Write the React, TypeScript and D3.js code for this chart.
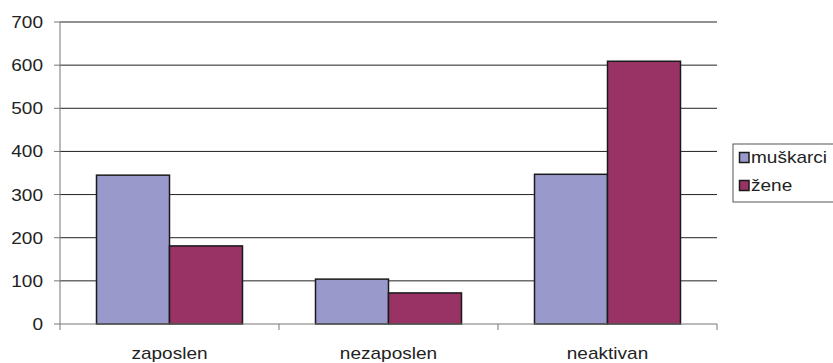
import React from "react";
import * as d3 from "d3";

const categories = ["zaposlen", "nezaposlen", "neaktivan"];
const seriesNames = ["muškarci", "žene"];
const muskarci = [345, 104, 347];
const zene = [181, 72, 609];
const yTicks = [0, 100, 200, 300, 400, 500, 600, 700];
const colors = ["#9999cc", "#993366"];

const W = 833;
const H = 363;
const left = 60;
const right = 717;
const top = 22;
const bottom = 324;
const font = "'Liberation Sans', Arial, sans-serif";
const SX = 1.12;

function T({ x, y, anchor, children }: { x: number; y: number; anchor?: string; children: React.ReactNode }) {
  return (
    <text transform={`translate(${x},${y}) scale(${SX},1)`} dy="0.35em" textAnchor={anchor || "start"}
      fontFamily={font} fontSize={17} fill="#222">{children}</text>
  );
}

export default function App() {
  const x = d3.scaleBand<string>().domain(categories).range([left, right]).paddingInner(0).paddingOuter(0);
  const y = d3.scaleLinear().domain([0, 700]).range([bottom, top]);
  const bw = x.bandwidth();
  const barW = bw / 3;
  const inner = d3.scaleBand<string>().domain(seriesNames).range([bw / 2 - barW, bw / 2 + barW]);
  const values = [muskarci, zene];

  return (
    <svg width={W} height={H} style={{ position: "absolute", left: 0, top: 0 }}>
      <rect x={0} y={0} width={W} height={H} fill="#fff" />
      {yTicks.filter((t) => t > 0).map((t) => (
        <line key={t} x1={left} x2={right} y1={y(t)} y2={y(t)} stroke="#222" strokeWidth={1} />
      ))}
      {categories.map((c, i) =>
        seriesNames.map((s, j) => {
          const v = values[j][i];
          const bx = (x(c) as number) + (inner(s) as number);
          return (
            <rect key={c + s} x={bx} y={y(v)} width={inner.bandwidth()} height={y(0) - y(v)}
              fill={colors[j]} stroke="#1a1a1a" strokeWidth={1.5} />
          );
        })
      )}
      <line x1={left} x2={left} y1={top} y2={bottom + 6} stroke="#777" strokeWidth={1} />
      <line x1={left} x2={right} y1={bottom} y2={bottom} stroke="#777" strokeWidth={1} />
      {yTicks.map((t) => (
        <g key={"yt" + t}>
          <line x1={left - 6} x2={left} y1={y(t)} y2={y(t)} stroke="#777" />
          <T x={43} y={y(t)} anchor="end">{t}</T>
        </g>
      ))}
      {categories.map((c) => (
        <line key={"xt" + c} x1={(x(c) as number) + bw} x2={(x(c) as number) + bw} y1={bottom} y2={bottom + 6} stroke="#777" />
      ))}
      {categories.map((c) => (
        <T key={"xl" + c} x={(x(c) as number) + bw / 2} y={353} anchor="middle">{c}</T>
      ))}
      <rect x={733} y={144} width={120} height={58} fill="#fff" stroke="#555" strokeWidth={1} />
      {seriesNames.map((s, j) => (
        <g key={"lg" + s}>
          <rect x={739.5} y={152.5 + j * 28} width={9.5} height={10} fill={colors[j]} stroke="#1a1a1a" strokeWidth={1.5} />
          <T x={751} y={157.5 + j * 28}>{s}</T>
        </g>
      ))}
    </svg>
  );
}
